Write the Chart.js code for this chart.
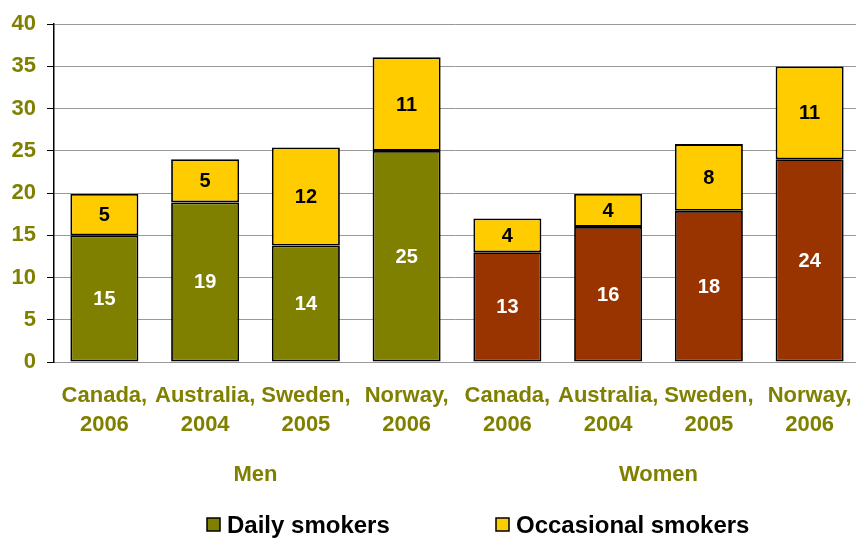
<!DOCTYPE html>
<html><head><meta charset="utf-8">
<script src="https://cdn.jsdelivr.net/npm/chart.js@4/dist/chart.umd.min.js"></script>
<style>html,body{margin:0;padding:0;background:#fff}#wrap{width:856px;height:538px}</style>
</head><body><div id="wrap"><canvas id="c" width="856" height="538"></canvas></div>
<script>
const categories = [["Canada,","2006"],["Australia,","2004"],["Sweden,","2005"],["Norway,","2006"],["Canada,","2006"],["Australia,","2004"],["Sweden,","2005"],["Norway,","2006"]];
const groups = ["Men","Women"];
const dailySmokers = [15.0,18.9,13.8,25.0,13.0,16.0,17.9,24.0];
const occasionalSmokers = [4.9,5.1,11.6,11.1,4.0,3.9,7.9,11.0];
const seriesNames = ["Daily smokers","Occasional smokers"];
const yTicks = [0,5,10,15,20,25,30,35,40];

const OLIVE = '#808000', BROWN = '#993300', YELLOW = '#FFCC00';
const FONT = '"Liberation Sans", Arial, sans-serif';
const dailyColors = dailySmokers.map((v,i)=> i < 4 ? OLIVE : BROWN);

const widenPlugin = {
  id:'widen',
  afterLayout(chart){
    const s = chart.scales.x;
    s.right += 4; s.width += 4;
    s.configure();
  }
};

const labelPlugin = {
  id:'labels',
  afterDatasetsDraw(chart){
    const ctx = chart.ctx;
    ctx.save();
    ctx.font = 'bold 20px ' + FONT;
    ctx.textAlign = 'center';
    ctx.textBaseline = 'middle';
    chart.data.datasets.forEach((ds, di)=>{
      const meta = chart.getDatasetMeta(di);
      meta.data.forEach((bar, i)=>{
        const top = bar.y, bottom = bar.base;
        ctx.fillStyle = di === 0 ? '#ffffff' : '#000000';
        ctx.fillText(String(Math.round(ds.data[i])), bar.x, (top+bottom)/2 + 1);
      });
    });
    // group labels
    const xs = chart.scales.x;
    ctx.font = 'bold 22px ' + FONT;
    ctx.fillStyle = OLIVE;
    groups.forEach((g, gi)=>{
      const cx = (xs.getPixelForValue(gi*4+1) + xs.getPixelForValue(gi*4+2))/2;
      ctx.fillText(g, cx, 475);
    });
    // legend
    ctx.font = 'bold 24px ' + FONT;
    ctx.textAlign = 'left';
    const items = [{c:OLIVE, x:207}, {c:YELLOW, x:496}];
    items.forEach((it, k)=>{
      ctx.fillStyle = it.c;
      ctx.fillRect(it.x, 518, 13, 13);
      ctx.strokeStyle = '#000';
      ctx.lineWidth = 1.5;
      ctx.strokeRect(it.x, 518, 13, 13);
      ctx.fillStyle = '#000';
      ctx.fillText(seriesNames[k], it.x + 20, 526);
    });
    ctx.restore();
  }
};

new Chart(document.getElementById('c'), {
  type:'bar',
  data:{
    labels: categories,
    datasets:[
      {label:seriesNames[0], data:dailySmokers, backgroundColor:dailyColors, borderColor:'#000', borderWidth:1.8, borderSkipped:false, barPercentage:0.675, categoryPercentage:1},
      {label:seriesNames[1], data:occasionalSmokers, backgroundColor:YELLOW, borderColor:'#000', borderWidth:1.8, borderSkipped:false, barPercentage:0.675, categoryPercentage:1}
    ]
  },
  options:{
    responsive:false,
    animation:false,
    devicePixelRatio:1,
    layout:{padding:{top:23, right:0, bottom:0, left:0}},
    plugins:{legend:{display:false}, tooltip:{enabled:false}},
    scales:{
      x:{
        stacked:true,
        grid:{display:false},
        border:{display:true, color:'#999999', width:1},
        ticks:{color:OLIVE, font:{family:FONT, size:22, weight:'bold', lineHeight:1.3}, padding:12, maxRotation:0, autoSkip:false},
        afterFit(s){ s.height = 176; s.paddingLeft = 0; s.paddingRight = 0; }
      },
      y:{
        stacked:true,
        min:0, max:40,
        afterBuildTicks(s){ s.ticks = yTicks.map(v=>({value:v})); },
        grid:{color:'#999999', lineWidth:1, tickColor:'#000', tickLength:7},
        border:{display:true, color:'#000', width:1.5},
        ticks:{color:OLIVE, font:{family:FONT, size:22, weight:'bold'}, padding:11},
        afterFit(s){ s.width = 54; }
      }
    }
  },
  plugins:[widenPlugin, labelPlugin]
});
</script></body></html>
